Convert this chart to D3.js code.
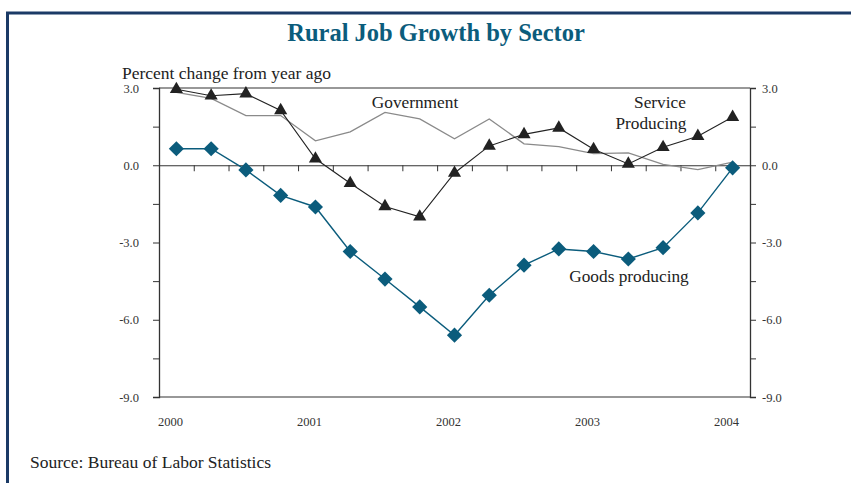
<!DOCTYPE html>
<html>
<head>
<meta charset="utf-8">
<script src="https://cdn.jsdelivr.net/npm/d3@7"></script>
<style>
  body { margin: 0; background: #fff; }
  svg { display: block; font-family: "Liberation Serif", "DejaVu Serif", serif; }
</style>
</head>
<body>
<svg id="chart" width="851" height="483"></svg>
<script>
// quarterly, 2000Q1 .. 2004Q1
const quarters = d3.range(17);
const yearLabels = ["2000", "2001", "2002", "2003", "2004"];
const goods = [0.64, 0.64, -0.18, -1.17, -1.62, -3.35, -4.42, -5.5, -6.6, -5.05, -3.88, -3.25, -3.35, -3.64, -3.2, -1.85, -0.1];
const service = [2.95, 2.7, 2.78, 2.13, 0.25, -0.7, -1.6, -2.0, -0.3, 0.75, 1.2, 1.45, 0.62, 0.05, 0.7, 1.13, 1.87];
const government = [2.83, 2.6, 1.93, 1.93, 0.95, 1.3, 2.05, 1.8, 1.03, 1.8, 0.83, 0.72, 0.45, 0.48, 0.03, -0.17, 0.12];
const yTicks = [3, 0, -3, -6, -9];

const svg = d3.select("#chart");
const plotL = 159, plotR = 750, plotT = 88, plotB = 397;

const x = d3.scaleLinear().domain([-0.5, 16.5]).range([plotL, plotR]);
const y = d3.scaleLinear().domain([-9, 3]).range([plotB, plotT]);

// frame border
svg.append("line").attr("x1", 6).attr("x2", 851).attr("y1", 13).attr("y2", 13)
    .attr("stroke", "#1b3a66").attr("stroke-width", 3);
svg.append("line").attr("x1", 7.5).attr("x2", 7.5).attr("y1", 12).attr("y2", 483)
    .attr("stroke", "#1b3a66").attr("stroke-width", 3);

svg.append("text").attr("x", 436).attr("y", 41).attr("text-anchor", "middle")
    .attr("font-size", 24.5).attr("font-weight", "bold").attr("fill", "#0b5c7c")
    .text("Rural Job Growth by Sector");

svg.append("text").attr("x", 122).attr("y", 79).attr("font-size", 17.5).attr("fill", "#222")
    .text("Percent change from year ago");

svg.append("text").attr("x", 30).attr("y", 468).attr("font-size", 17.5).attr("fill", "#222")
    .text("Source: Bureau of Labor Statistics");

// axes
const tickVals = d3.range(-9, 3.01, 1.5);
const fmt = d => yTicks.includes(d) ? d.toFixed(1) : "";

const yLeft = svg.append("g").attr("transform", `translate(${plotL},0)`)
    .call(d3.axisLeft(y).tickValues(tickVals).tickFormat(fmt).tickSize(6).tickPadding(14));
const yRight = svg.append("g").attr("transform", `translate(${plotR},0)`)
    .call(d3.axisRight(y).tickValues(tickVals).tickFormat(fmt).tickSize(6).tickPadding(6));
[yLeft, yRight].forEach(g => {
    g.attr("font-family", null);
    g.select(".domain").attr("stroke", "#333").attr("stroke-width", 1.3);
    g.selectAll(".tick line").attr("stroke", "#333");
    g.selectAll("text").attr("font-size", 12.5).attr("fill", "#333");
});

// top and bottom frame lines
svg.append("line").attr("x1", plotL).attr("x2", plotR).attr("y1", y(3)).attr("y2", y(3))
    .attr("stroke", "#333").attr("stroke-width", 1.2);
svg.append("line").attr("x1", plotL).attr("x2", plotR).attr("y1", y(-9)).attr("y2", y(-9))
    .attr("stroke", "#333").attr("stroke-width", 1.2);

// zero line with quarter ticks
const xAxis = svg.append("g").attr("transform", `translate(0,${y(0)})`)
    .call(d3.axisBottom(x).tickValues(d3.range(-0.5, 16.6, 1)).tickFormat("").tickSize(6).tickSizeOuter(0));
xAxis.select(".domain").attr("stroke", "#333").attr("stroke-width", 1.2);
xAxis.selectAll(".tick line").attr("stroke", "#333");

// year labels
svg.append("g").selectAll("text").data(yearLabels).join("text")
    .attr("x", (d, i) => x(i * 4) - 6).attr("y", 426)
    .attr("text-anchor", "middle").attr("font-size", 12.5).attr("fill", "#333")
    .text(d => d);

const line = d3.line().x((d, i) => x(quarters[i])).y(d => y(d));

svg.append("path").datum(government).attr("d", line)
    .attr("fill", "none").attr("stroke", "#8a8a8a").attr("stroke-width", 1.3);

svg.append("path").datum(service).attr("d", line)
    .attr("fill", "none").attr("stroke", "#222").attr("stroke-width", 1.1);
svg.append("g").selectAll("path").data(service).join("path")
    .attr("transform", (d, i) => `translate(${x(quarters[i])},${y(d)})`)
    .attr("d", d3.symbol(d3.symbolTriangle, 75))
    .attr("fill", "#222");

svg.append("path").datum(goods).attr("d", line)
    .attr("fill", "none").attr("stroke", "#0b5c7c").attr("stroke-width", 1.4);
svg.append("g").selectAll("path").data(goods).join("path")
    .attr("transform", (d, i) => `translate(${x(quarters[i])},${y(d)}) rotate(45)`)
    .attr("d", d3.symbol(d3.symbolSquare, 115))
    .attr("fill", "#0b5c7c");

// series labels
const lab = (tx, ty, t) => svg.append("text").attr("x", tx).attr("y", ty)
    .attr("text-anchor", "middle").attr("font-size", 17.3).attr("fill", "#222").text(t);
lab(415, 108, "Government");
lab(660, 108, "Service");
lab(651, 129, "Producing");
lab(629, 282, "Goods producing");
</script>
</body>
</html>
